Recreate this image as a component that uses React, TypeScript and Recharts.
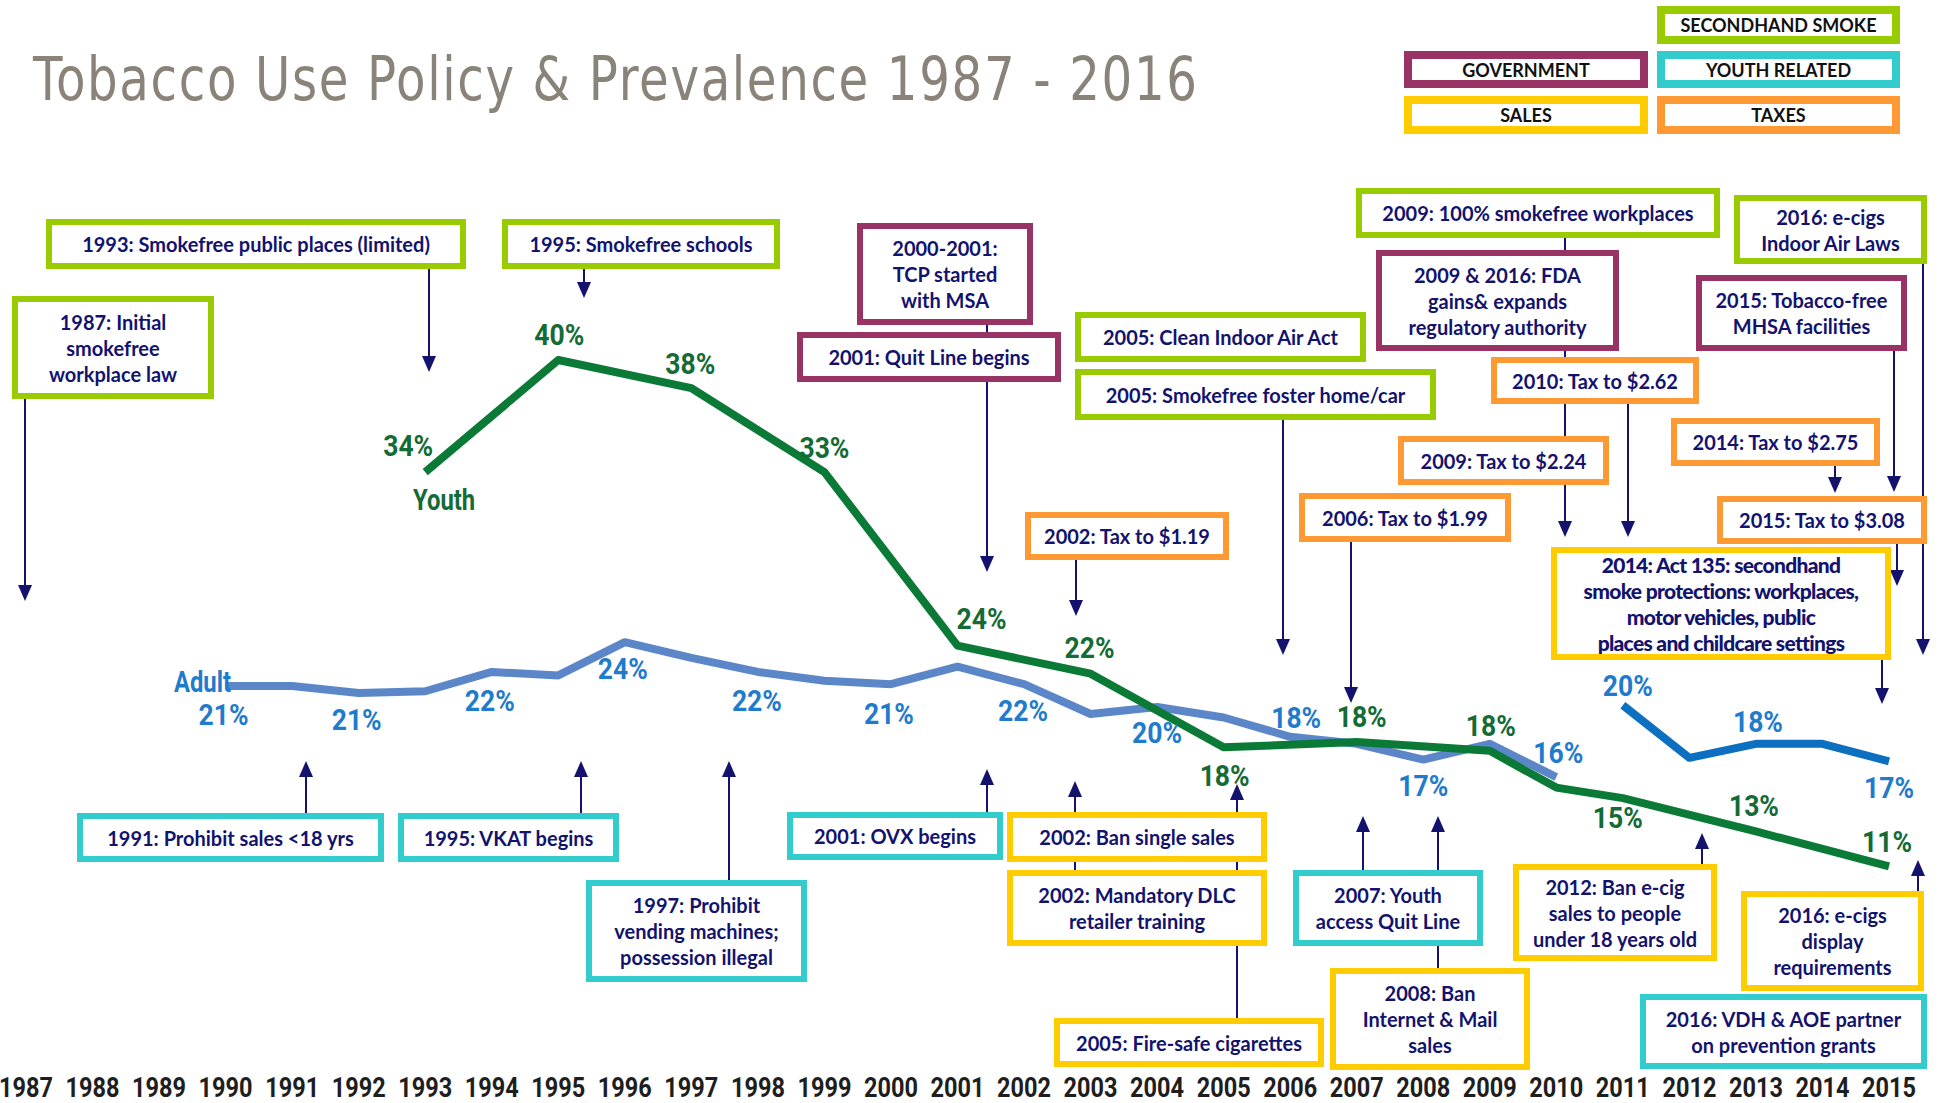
import React from "react";
import { LabelList, Line, LineChart, XAxis, YAxis } from "recharts";

// ---- data -----------------------------------------------------------------

const years = [
  1987, 1988, 1989, 1990, 1991, 1992, 1993, 1994, 1995, 1996, 1997, 1998, 1999, 2000, 2001,
  2002, 2003, 2004, 2005, 2006, 2007, 2008, 2009, 2010, 2011, 2012, 2013, 2014, 2015,
];

// adult smoking, old survey method (1990-2010)
const adultPrior = [
  null, null, null, 21.4, 21.4, 21.0, 21.1, 22.2, 22.0, 23.9, 23.0, 22.2, 21.7, 21.5, 22.5,
  21.5, 19.8, 20.2, 19.6, 18.5, 18.1, 17.2, 18.1, 16.2, null, null, null, null, null,
];

// adult smoking, new survey method (2011-2015)
const adultCurrent = [
  null, null, null, null, null, null, null, null, null, null, null, null, null, null, null,
  null, null, null, null, null, null, null, null, null, 20.3, 17.3, 18.1, 18.1, 17.1,
];

// youth smoking (YRBS, mostly every other year)
const youth = [
  null, null, null, null, null, null, 33.6, null, 40.0, null, 38.4, null, 33.6, null, 23.7,
  null, 22.1, null, 17.9, null, 18.2, null, 17.7, 15.6, 15.0, null, 13.1, null, 11.1,
];

const adultPriorLabels: [number, string][] = [
  [1990, "21%"], [1992, "21%"], [1994, "22%"], [1996, "24%"], [1998, "22%"], [2000, "21%"],
  [2002, "22%"], [2004, "20%"], [2006, "18%"], [2008, "17%"], [2010, "16%"],
];
const adultCurrentLabels: [number, string][] = [[2011, "20%"], [2013, "18%"], [2015, "17%"]];
const youthLabels: [number, string][] = [
  [1993, "34%"], [1995, "40%"], [1997, "38%"], [1999, "33%"], [2001, "24%"], [2003, "22%"],
  [2005, "18%"], [2007, "18%"], [2009, "18%"], [2011, "15%"], [2013, "13%"], [2015, "11%"],
];

const rows = years.map((year, i) => ({
  year,
  adultPrior: adultPrior[i],
  adultCurrent: adultCurrent[i],
  youth: youth[i],
  adultPriorLabel: adultPriorLabels.find(([y]) => y === year)?.[1] ?? null,
  adultCurrentLabel: adultCurrentLabels.find(([y]) => y === year)?.[1] ?? null,
  youthLabel: youthLabels.find(([y]) => y === year)?.[1] ?? null,
}));

// ---- styling --------------------------------------------------------------

const NAVY = "#13136e";
const C = {
  smoke: "#99cc00",
  gov: "#993366",
  youth: "#33cccc",
  sales: "#ffcc00",
  taxes: "#ff9933",
};
const BLUE_OLD = "#5b87c9";
const BLUE_NEW = "#0d6fc0";
const GREEN = "#0b7a37";
const ADULT_TEXT = "#1f7bcc";
const YOUTH_TEXT = "#136b35";
const LABEL_FONT = 'Roboto, "DejaVu Sans", sans-serif';
const BOX_FONT = 'Lato, "Open Sans", sans-serif';

// label offset from its point, px
const OFFSETS: Record<string, Record<number, [number, number]>> = {
  adultPrior: {
    1990: [-2, 29], 1992: [-2, 27], 1994: [-2, 29], 1996: [-2, 27], 1998: [-1, 29], 2000: [-2, 30],
    2002: [-1, 27], 2004: [0, 26], 2006: [6, -19], 2008: [0, 26], 2010: [2, -24],
  },
  adultCurrent: { 2011: [5, -19], 2013: [2, -22], 2015: [0, 27] },
  youth: {
    1993: [-17, -26], 1995: [1, -25], 1997: [-1, -24], 1999: [0, -24], 2001: [24, -27],
    2003: [-1, -26], 2005: [1, 29], 2007: [5, -25], 2009: [1, -25], 2011: [-5, 20],
    2013: [-2, -25], 2015: [-2, -24],
  },
};

const pctLabel = (series: string, color: string) => (props: any) => {
  const { value, index } = props;
  const x = props.viewBox?.x ?? props.x;
  const y = props.viewBox?.y ?? props.y;
  if (value == null || y == null || x == null) return null;
  const [dx, dy] = OFFSETS[series][years[index]] ?? [0, -24];
  return (
    <text
      x={x + dx}
      y={y + dy}
      textAnchor="middle"
      dominantBaseline="central"
      fill={color}
      fontFamily={LABEL_FONT}
      fontWeight="bold"
      fontSize={29}
      textLength={50}
      lengthAdjust="spacingAndGlyphs"
    >
      {value}
    </text>
  );
};

const YearTick = ({ x, y, payload }: any) => (
  <text
    x={x}
    y={y}
    dy={20}
    textAnchor="middle"
    fill="#1e1e1e"
    fontFamily={LABEL_FONT}
    fontWeight="bold"
    fontSize={28}
    textLength={54}
    lengthAdjust="spacingAndGlyphs"
  >
    {payload.value}
  </text>
);

// annotation boxes: [text, colour, left, top, width, height]
const legend: [string, string, number, number, number, number][] = [
  ["SECONDHAND SMOKE", C.smoke, 1657, 6, 243, 38],
  ["GOVERNMENT", C.gov, 1404, 51, 244, 37],
  ["YOUTH RELATED", C.youth, 1657, 51, 243, 37],
  ["SALES", C.sales, 1404, 96, 244, 38],
  ["TAXES", C.taxes, 1657, 96, 243, 38],
];

const notes: [string, string, number, number, number, number][] = [
  ["1993: Smokefree public places (limited)", C.smoke, 46, 219, 420, 50],
  ["1995: Smokefree schools", C.smoke, 502, 219, 278, 50],
  ["1987: Initial\nsmokefree\nworkplace law", C.smoke, 12, 296, 202, 103],
  ["2000-2001:\nTCP started\nwith MSA", C.gov, 857, 223, 176, 102],
  ["2001: Quit Line begins", C.gov, 797, 332, 264, 50],
  ["2005: Clean Indoor Air Act", C.smoke, 1075, 312, 291, 50],
  ["2005: Smokefree foster home/car", C.smoke, 1075, 369, 361, 51],
  ["2009: 100% smokefree workplaces", C.smoke, 1356, 188, 364, 50],
  ["2009 & 2016: FDA\ngains& expands\nregulatory authority", C.gov, 1376, 250, 243, 101],
  ["2016: e-cigs\nIndoor Air Laws", C.smoke, 1734, 195, 193, 69],
  ["2015: Tobacco-free\nMHSA facilities", C.gov, 1696, 275, 211, 76],
  ["2010: Tax to $2.62", C.taxes, 1491, 357, 208, 47],
  ["2009: Tax to $2.24", C.taxes, 1398, 436, 211, 49],
  ["2014: Tax to $2.75", C.taxes, 1671, 418, 209, 48],
  ["2015: Tax to $3.08", C.taxes, 1717, 496, 210, 48],
  ["2006: Tax to $1.99", C.taxes, 1299, 493, 212, 49],
  ["2002: Tax to $1.19", C.taxes, 1025, 512, 204, 48],
  ["1991: Prohibit sales <18 yrs", C.youth, 77, 813, 307, 49],
  ["1995: VKAT begins", C.youth, 398, 813, 221, 49],
  ["1997: Prohibit\nvending machines;\npossession illegal", C.youth, 586, 880, 221, 102],
  ["2001: OVX begins", C.youth, 787, 812, 216, 48],
  ["2002: Ban single sales", C.sales, 1007, 812, 260, 50],
  ["2002: Mandatory DLC\nretailer training", C.sales, 1007, 870, 260, 76],
  ["2005: Fire-safe cigarettes", C.sales, 1054, 1018, 270, 49],
  ["2007: Youth\naccess Quit Line", C.youth, 1293, 870, 190, 76],
  ["2008: Ban\nInternet & Mail\nsales", C.sales, 1330, 968, 200, 102],
  ["2012: Ban e-cig\nsales to people\nunder 18 years old", C.sales, 1513, 864, 204, 97],
  ["2016: e-cigs\ndisplay\nrequirements", C.sales, 1741, 891, 183, 100],
  ["2016: VDH & AOE partner\non prevention grants", C.youth, 1640, 994, 287, 75],
];

const act135 = "2014: Act 135: secondhand\nsmoke protections: workplaces,\nmotor vehicles, public\nplaces and childcare settings";

// arrows: [x, from, to] (head at "to"); connectors have no head
const arrows: [number, number, number][] = [
  [429, 269, 372], [584, 269, 298], [25, 399, 601], [987, 382, 572], [1283, 420, 655],
  [1923, 264, 655], [1894, 351, 492], [1628, 404, 537], [1565, 485, 537], [1835, 466, 493],
  [1897, 544, 586], [1351, 542, 703], [1076, 560, 616], [1882, 660, 704],
  [306, 813, 761], [581, 813, 761], [729, 880, 761], [987, 812, 769], [1075, 812, 781],
  [1237, 1018, 784], [1363, 870, 816], [1438, 870, 816], [1702, 864, 833], [1918, 891, 860],
];
const connectors: [number, number, number][] = [
  [987, 325, 332], [1075, 862, 870], [1438, 946, 968], [1565, 238, 250], [1565, 351, 357],
  [1565, 404, 436],
];

function Box({ text, color, left, top, width, height, border = 6, style }: any) {
  return (
    <div
      style={{
        position: "absolute",
        left,
        top,
        width,
        height,
        boxSizing: "border-box",
        border: `${border}px solid ${color}`,
        background: "#fff",
        display: "flex",
        alignItems: "center",
        justifyContent: "center",
        textAlign: "center",
        whiteSpace: "pre-line",
        fontFamily: BOX_FONT,
        fontWeight: 700,
        fontSize: 20,
        lineHeight: "26px",
        color: NAVY,
        ...style,
      }}
    >
      {text}
    </div>
  );
}

const seriesName = (color: string, left: number, top: number) => ({
  position: "absolute" as const,
  left,
  top,
  fontFamily: LABEL_FONT,
  fontWeight: 700,
  fontSize: 29,
  color,
  transform: "scaleX(0.82)",
  transformOrigin: "left top",
});

export default function App() {
  return (
    <div
      style={{
        position: "fixed",
        left: 0,
        top: 0,
        width: 1944,
        height: 1103,
        background: "#fff",
        overflow: "hidden",
      }}
    >
      <LineChart
        width={1944}
        height={1103}
        data={rows}
        margin={{ top: 360, right: 55, bottom: 0, left: 26 }}
      >
        <XAxis
          type="number"
          dataKey="year"
          domain={[1987, 2015]}
          ticks={years}
          interval={0}
          tickLine={false}
          axisLine={false}
          height={42}
          tickMargin={10}
          tick={<YearTick />}
        />
        <YAxis hide domain={[0, 40]} />
        <Line
          dataKey="adultPrior"
          stroke={BLUE_OLD}
          strokeWidth={8}
          strokeLinejoin="round"
          dot={false}
          isAnimationActive={false}
        >
          <LabelList dataKey="adultPriorLabel" content={pctLabel("adultPrior", ADULT_TEXT)} />
        </Line>
        <Line
          dataKey="adultCurrent"
          stroke={BLUE_NEW}
          strokeWidth={8}
          strokeLinejoin="round"
          dot={false}
          isAnimationActive={false}
        >
          <LabelList dataKey="adultCurrentLabel" content={pctLabel("adultCurrent", ADULT_TEXT)} />
        </Line>
        <Line
          dataKey="youth"
          stroke={GREEN}
          strokeWidth={8}
          strokeLinejoin="round"
          connectNulls
          dot={false}
          isAnimationActive={false}
        >
          <LabelList dataKey="youthLabel" content={pctLabel("youth", YOUTH_TEXT)} />
        </Line>
      </LineChart>

      {/* series names */}
      <div style={seriesName(ADULT_TEXT, 174, 665)}>Adult</div>
      <div style={seriesName(YOUTH_TEXT, 413, 483)}>Youth</div>

      <svg width={1944} height={1103} style={{ position: "absolute", left: 0, top: 0 }}>
        {connectors.map(([x, a, b], i) => (
          <line key={`c${i}`} x1={x} x2={x} y1={a} y2={b} stroke={NAVY} strokeWidth={2} />
        ))}
        {arrows.map(([x, a, b], i) => {
          const dir = b > a ? 1 : -1;
          return (
            <g key={`a${i}`}>
              <line x1={x} x2={x} y1={a} y2={b - dir * 12} stroke={NAVY} strokeWidth={2} />
              <polygon
                points={`${x - 7},${b - dir * 16} ${x + 7},${b - dir * 16} ${x},${b}`}
                fill={NAVY}
              />
            </g>
          );
        })}
      </svg>

      {notes.map(([text, color, left, top, width, height], i) => (
        <Box key={i} text={text} color={color} left={left} top={top} width={width} height={height} />
      ))}
      <Box
        text={act135}
        color={C.sales}
        left={1551}
        top={547}
        width={340}
        height={113}
        style={{ fontWeight: 900, fontSize: 21, letterSpacing: -0.7, lineHeight: "26px" }}
      />

      {legend.map(([text, color, left, top, width, height], i) => (
        <Box
          key={`l${i}`}
          text={text}
          color={color}
          left={left}
          top={top}
          width={width}
          height={height}
          border={8}
          style={{ color: "#111", fontSize: 18, lineHeight: "20px" }}
        />
      ))}

      <div
        style={{
          position: "absolute",
          left: 33,
          top: 44,
          fontFamily: '"DejaVu Sans", sans-serif',
          fontSize: 60,
          letterSpacing: 2,
          color: "#8a8379",
          whiteSpace: "nowrap",
          transform: "scaleX(0.805)",
          transformOrigin: "left top",
        }}
      >
        Tobacco Use Policy &amp; Prevalence 1987 - 2016
      </div>
    </div>
  );
}
